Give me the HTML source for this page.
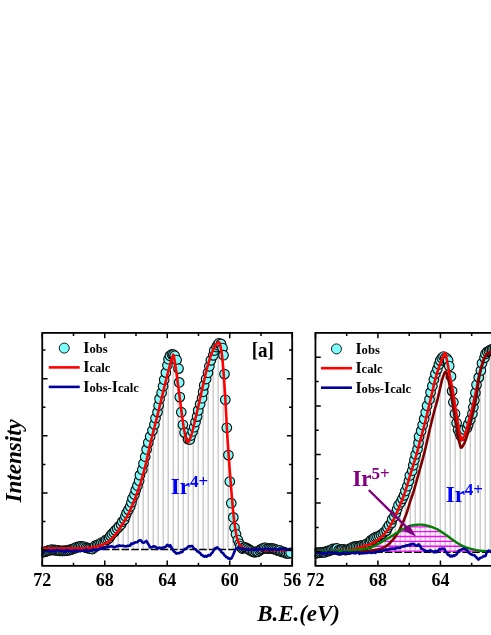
<!DOCTYPE html>
<html><head><meta charset="utf-8"><title>XPS Ir 4f</title>
<style>
html,body{margin:0;padding:0;background:#fff;}
body{width:491px;height:635px;overflow:hidden;font-family:"Liberation Serif",serif;}
svg{display:block;will-change:transform;}
text{font-family:"Liberation Serif",serif;font-weight:bold;}
.lg{text-anchor:start;}
.tk{font-size:18px;text-anchor:middle;}
.pl{font-size:20.3px;text-anchor:middle;}
.ir{font-size:23px;text-anchor:start;}
.ax{font-size:22.9px;font-style:italic;text-anchor:middle;}
</style></head><body>
<svg width="491" height="635" viewBox="0 0 491 635">
<rect width="491" height="635" fill="#fff"/>
<g>
<path d="M48.2 549.8V550M53.2 549.8V550M58.2 549.8V550M63.2 549.8V550M68.2 549.8V549.98M73.2 549.8V549.96M78.2 549.8V549.92M83.2 549.8V549.83M88.2 549.8V549.56M93.2 549.8V547.63M98.2 549.8V544.07M103.2 549.8V542.3M108.2 549.8V539.24M113.2 549.8V534.01M118.2 549.8V527.1M123.2 549.8V519.16M128.2 549.8V509.61M133.2 549.8V497.7M138.2 549.8V483.69M143.2 549.8V465.99M148.2 549.8V443.88M153.2 549.8V423.94M158.2 549.8V403.86M163.2 549.8V383.36M168.2 549.8V361.34M173.2 549.8V354.9M178.2 549.8V368.6M183.2 549.8V426.56M188.2 549.8V438.68M193.2 549.8V428.7M198.2 549.8V411.64M203.2 549.8V391.69M208.2 549.8V371.3M213.2 549.8V352.94M218.2 549.8V343.32M223.2 549.8V354.59M228.2 549.8V451.64M233.2 549.8V517.4M238.2 549.8V541.07M243.2 549.8V549.07M248.2 549.8V550M253.2 549.8V550M258.2 549.8V550M263.2 549.8V550M268.2 549.8V550M273.2 549.8V550M278.2 549.8V550M283.2 549.8V550M288.2 549.8V550" stroke="#c6c6c6" stroke-width="1.3" fill="none"/>
<path d="M44 549.5H291" stroke="#000" stroke-width="1.3" stroke-dasharray="7.5 2.2" fill="none"/>
<clipPath id="ca"><rect x="41.35" y="332.9" width="251.75" height="232.95"/></clipPath>
<g clip-path="url(#ca)"><g fill="#7dffff" stroke="#0c0c0c" stroke-width="1.15"><circle cx="42.25" cy="552.22" r="4.8"/><circle cx="43.81" cy="552" r="4.8"/><circle cx="45.37" cy="551.59" r="4.8"/><circle cx="46.94" cy="551.02" r="4.8"/><circle cx="48.5" cy="550.44" r="4.8"/><circle cx="50.06" cy="550.16" r="4.8"/><circle cx="51.62" cy="549.59" r="4.8"/><circle cx="53.19" cy="550.03" r="4.8"/><circle cx="54.75" cy="549.95" r="4.8"/><circle cx="56.31" cy="550.36" r="4.8"/><circle cx="57.87" cy="550.35" r="4.8"/><circle cx="59.44" cy="550.82" r="4.8"/><circle cx="61" cy="550.93" r="4.8"/><circle cx="62.56" cy="550.76" r="4.8"/><circle cx="64.12" cy="550.75" r="4.8"/><circle cx="65.69" cy="550.66" r="4.8"/><circle cx="67.25" cy="550.4" r="4.8"/><circle cx="68.81" cy="550.21" r="4.8"/><circle cx="70.37" cy="549.65" r="4.8"/><circle cx="71.93" cy="549.31" r="4.8"/><circle cx="73.49" cy="548.54" r="4.8"/><circle cx="75.05" cy="548.1" r="4.8"/><circle cx="76.61" cy="547" r="4.8"/><circle cx="78.17" cy="547.22" r="4.8"/><circle cx="79.72" cy="546.42" r="4.8"/><circle cx="81.27" cy="546.3" r="4.8"/><circle cx="82.81" cy="546.57" r="4.8"/><circle cx="84.35" cy="546.81" r="4.8"/><circle cx="85.92" cy="547.62" r="4.8"/><circle cx="87.49" cy="547.99" r="4.8"/><circle cx="89.06" cy="548.38" r="4.8"/><circle cx="90.58" cy="548.74" r="4.8"/><circle cx="92.52" cy="549.03" r="4.8"/><circle cx="93.93" cy="547.34" r="4.8"/><circle cx="95.31" cy="545.61" r="4.8"/><circle cx="97.11" cy="545.15" r="4.8"/><circle cx="98.57" cy="544.41" r="4.8"/><circle cx="100.27" cy="544.81" r="4.8"/><circle cx="101.52" cy="542.59" r="4.8"/><circle cx="103.31" cy="542.76" r="4.8"/><circle cx="104.86" cy="541.84" r="4.8"/><circle cx="106.01" cy="539.81" r="4.8"/><circle cx="107.76" cy="539.26" r="4.8"/><circle cx="109.28" cy="537.93" r="4.8"/><circle cx="110.52" cy="535.87" r="4.8"/><circle cx="111.95" cy="533.93" r="4.8"/><circle cx="113.75" cy="532.39" r="4.8"/><circle cx="115.34" cy="530.34" r="4.8"/><circle cx="117.26" cy="528.56" r="4.8"/><circle cx="119.02" cy="526.42" r="4.8"/><circle cx="121.05" cy="524.47" r="4.8"/><circle cx="122.31" cy="521.66" r="4.8"/><circle cx="124.37" cy="519.53" r="4.8"/><circle cx="125.45" cy="516.24" r="4.8"/><circle cx="126.65" cy="512.91" r="4.8"/><circle cx="128.44" cy="509.87" r="4.8"/><circle cx="130.23" cy="506.52" r="4.8"/><circle cx="131.45" cy="502.53" r="4.8"/><circle cx="132.51" cy="498.32" r="4.8"/><circle cx="134.47" cy="494.56" r="4.8"/><circle cx="135.74" cy="490.12" r="4.8"/><circle cx="137.46" cy="485.64" r="4.8"/><circle cx="139.12" cy="480.79" r="4.8"/><circle cx="139.92" cy="475.14" r="4.8"/><circle cx="142.28" cy="469.77" r="4.8"/><circle cx="143.48" cy="463.45" r="4.8"/><circle cx="145.21" cy="456.74" r="4.8"/><circle cx="146.62" cy="449.41" r="4.8"/><circle cx="148.29" cy="442.6" r="4.8"/><circle cx="150.17" cy="436.43" r="4.8"/><circle cx="152.43" cy="430.59" r="4.8"/><circle cx="154.39" cy="424.56" r="4.8"/><circle cx="155.52" cy="418.2" r="4.8"/><circle cx="157.52" cy="412.12" r="4.8"/><circle cx="158.65" cy="405.57" r="4.8"/><circle cx="159.57" cy="398.91" r="4.8"/><circle cx="161.62" cy="392.7" r="4.8"/><circle cx="163.08" cy="386.25" r="4.8"/><circle cx="164.19" cy="379.69" r="4.8"/><circle cx="165.86" cy="372.63" r="4.8"/><circle cx="167.44" cy="365.32" r="4.8"/><circle cx="168.52" cy="359.23" r="4.8"/><circle cx="169.92" cy="355.75" r="4.8"/><circle cx="171.9" cy="354.34" r="4.8"/><circle cx="173.35" cy="354.67" r="4.8"/><circle cx="174.72" cy="355.83" r="4.8"/><circle cx="176.6" cy="360" r="4.8"/><circle cx="178.5" cy="368.6" r="4.8"/><circle cx="179.2" cy="382.4" r="4.8"/><circle cx="179.8" cy="397.1" r="4.8"/><circle cx="181.3" cy="412.2" r="4.8"/><circle cx="182.9" cy="424.8" r="4.8"/><circle cx="184.6" cy="432.6" r="4.8"/><circle cx="188.07" cy="439.21" r="4.8"/><circle cx="189.85" cy="439.5" r="4.8"/><circle cx="190.91" cy="435.55" r="4.8"/><circle cx="192.67" cy="431.49" r="4.8"/><circle cx="194.15" cy="427.21" r="4.8"/><circle cx="195.52" cy="422.06" r="4.8"/><circle cx="197.12" cy="416.59" r="4.8"/><circle cx="198.21" cy="410.41" r="4.8"/><circle cx="200.13" cy="404.17" r="4.8"/><circle cx="202.07" cy="398.15" r="4.8"/><circle cx="203.16" cy="391.82" r="4.8"/><circle cx="204.19" cy="385.33" r="4.8"/><circle cx="206.13" cy="379.07" r="4.8"/><circle cx="207.97" cy="372.79" r="4.8"/><circle cx="209.4" cy="366.29" r="4.8"/><circle cx="210.86" cy="360.33" r="4.8"/><circle cx="213.32" cy="355.35" r="4.8"/><circle cx="214.24" cy="350.53" r="4.8"/><circle cx="216.47" cy="347.06" r="4.8"/><circle cx="217.7" cy="345.01" r="4.8"/><circle cx="218.89" cy="343.27" r="4.8"/><circle cx="220.96" cy="343.87" r="4.8"/><circle cx="222.5" cy="348" r="4.8"/><circle cx="223.5" cy="355.2" r="4.8"/><circle cx="224.5" cy="374.1" r="4.8"/><circle cx="225.3" cy="399.8" r="4.8"/><circle cx="226.8" cy="427.8" r="4.8"/><circle cx="228.4" cy="455.1" r="4.8"/><circle cx="229.8" cy="481.5" r="4.8"/><circle cx="231.3" cy="503.2" r="4.8"/><circle cx="233.3" cy="517.4" r="4.8"/><circle cx="234.5" cy="527.7" r="4.8"/><circle cx="236" cy="534.3" r="4.8"/><circle cx="237.9" cy="540" r="4.8"/><circle cx="239.49" cy="543.82" r="4.8"/><circle cx="240.44" cy="546.3" r="4.8"/><circle cx="242.22" cy="548.5" r="4.8"/><circle cx="243.53" cy="547.95" r="4.8"/><circle cx="245.06" cy="547.47" r="4.8"/><circle cx="246.81" cy="548.15" r="4.8"/><circle cx="248.47" cy="549.12" r="4.8"/><circle cx="250.04" cy="550.2" r="4.8"/><circle cx="251.6" cy="551.05" r="4.8"/><circle cx="253.16" cy="551.79" r="4.8"/><circle cx="254.72" cy="552.27" r="4.8"/><circle cx="256.29" cy="551.89" r="4.8"/><circle cx="257.85" cy="551.63" r="4.8"/><circle cx="259.41" cy="550.34" r="4.8"/><circle cx="260.97" cy="549.38" r="4.8"/><circle cx="262.53" cy="548.67" r="4.8"/><circle cx="264.1" cy="547.77" r="4.8"/><circle cx="265.66" cy="547.8" r="4.8"/><circle cx="267.22" cy="548.61" r="4.8"/><circle cx="268.78" cy="548.43" r="4.8"/><circle cx="270.35" cy="548.36" r="4.8"/><circle cx="271.91" cy="548.65" r="4.8"/><circle cx="273.47" cy="548.67" r="4.8"/><circle cx="275.03" cy="549.4" r="4.8"/><circle cx="276.6" cy="549.75" r="4.8"/><circle cx="278.16" cy="550.59" r="4.8"/><circle cx="279.72" cy="550.45" r="4.8"/><circle cx="281.28" cy="551.76" r="4.8"/><circle cx="282.84" cy="551.81" r="4.8"/><circle cx="284.41" cy="552.23" r="4.8"/><circle cx="285.97" cy="553.23" r="4.8"/><circle cx="287.53" cy="553.4" r="4.8"/><circle cx="289.09" cy="553.41" r="4.8"/><circle cx="290.66" cy="552.8" r="4.8"/></g></g>
<path d="M42.25 548.5 L42.75 548.5 L43.25 548.5 L43.75 548.5 L44.25 548.5 L44.75 548.5 L45.25 548.5 L45.75 548.5 L46.25 548.5 L46.75 548.5 L47.25 548.5 L47.75 548.5 L48.25 548.5 L48.75 548.5 L49.25 548.5 L49.75 548.5 L50.25 548.5 L50.75 548.5 L51.25 548.5 L51.75 548.5 L52.25 548.5 L52.75 548.5 L53.25 548.5 L53.75 548.5 L54.25 548.5 L54.75 548.5 L55.25 548.5 L55.75 548.5 L56.25 548.5 L56.75 548.5 L57.25 548.5 L57.75 548.5 L58.25 548.5 L58.75 548.5 L59.25 548.5 L59.75 548.5 L60.25 548.5 L60.75 548.5 L61.25 548.5 L61.75 548.5 L62.25 548.5 L62.75 548.5 L63.25 548.5 L63.75 548.5 L64.25 548.5 L64.75 548.49 L65.25 548.49 L65.75 548.49 L66.25 548.49 L66.75 548.49 L67.25 548.49 L67.75 548.49 L68.25 548.48 L68.75 548.48 L69.25 548.48 L69.75 548.48 L70.25 548.47 L70.75 548.47 L71.25 548.47 L71.75 548.47 L72.25 548.46 L72.75 548.46 L73.25 548.46 L73.75 548.45 L74.25 548.45 L74.75 548.45 L75.25 548.44 L75.75 548.44 L76.25 548.43 L76.75 548.43 L77.25 548.43 L77.75 548.42 L78.25 548.42 L78.75 548.41 L79.25 548.41 L79.75 548.4 L80.25 548.4 L80.75 548.39 L81.25 548.38 L81.75 548.36 L82.25 548.35 L82.75 548.33 L83.25 548.3 L83.75 548.28 L84.25 548.25 L84.75 548.22 L85.25 548.19 L85.75 548.15 L86.25 548.12 L86.75 548.08 L87.25 548.04 L87.75 548 L88.25 547.96 L88.75 547.91 L89.25 547.87 L89.75 547.82 L90.25 547.78 L90.75 547.72 L91.25 547.66 L91.75 547.59 L92.25 547.52 L92.75 547.44 L93.25 547.35 L93.75 547.26 L94.25 547.16 L94.75 547.06 L95.25 546.95 L95.75 546.84 L96.25 546.72 L96.75 546.59 L97.25 546.47 L97.75 546.34 L98.25 546.2 L98.75 546.06 L99.25 545.92 L99.75 545.77 L100.25 545.62 L100.75 545.46 L101.25 545.29 L101.75 545.11 L102.25 544.91 L102.75 544.7 L103.25 544.48 L103.75 544.25 L104.25 544.01 L104.75 543.76 L105.25 543.5 L105.75 543.22 L106.25 542.94 L106.75 542.64 L107.25 542.34 L107.75 542.02 L108.25 541.7 L108.75 541.36 L109.25 540.98 L109.75 540.57 L110.25 540.13 L110.75 539.67 L111.25 539.18 L111.75 538.67 L112.25 538.13 L112.75 537.59 L113.25 537.03 L113.75 536.46 L114.25 535.89 L114.75 535.31 L115.25 534.7 L115.75 534.06 L116.25 533.41 L116.75 532.72 L117.25 532.02 L117.75 531.31 L118.25 530.58 L118.75 529.84 L119.25 529.09 L119.75 528.33 L120.25 527.58 L120.75 526.82 L121.25 526.05 L121.75 525.28 L122.25 524.5 L122.75 523.72 L123.25 522.92 L123.75 522.11 L124.25 521.29 L124.75 520.46 L125.25 519.61 L125.75 518.74 L126.25 517.86 L126.75 516.96 L127.25 516.03 L127.75 515.09 L128.25 514.12 L128.75 513.11 L129.25 512.08 L129.75 511.02 L130.25 509.93 L130.75 508.82 L131.25 507.68 L131.75 506.53 L132.25 505.35 L132.75 504.15 L133.25 502.94 L133.75 501.72 L134.25 500.48 L134.75 499.22 L135.25 497.95 L135.75 496.66 L136.25 495.35 L136.75 494.02 L137.25 492.66 L137.75 491.27 L138.25 489.86 L138.75 488.42 L139.25 486.94 L139.75 485.43 L140.25 483.89 L140.75 482.3 L141.25 480.67 L141.75 478.98 L142.25 477.25 L142.75 475.47 L143.25 473.65 L143.75 471.79 L144.25 469.9 L144.75 467.97 L145.25 466 L145.75 464.01 L146.25 461.97 L146.75 459.84 L147.25 457.61 L147.75 455.32 L148.25 452.99 L148.75 450.65 L149.25 448.34 L149.75 446.06 L150.25 443.86 L150.75 441.76 L151.25 439.71 L151.75 437.7 L152.25 435.72 L152.75 433.78 L153.25 431.84 L153.75 429.92 L154.25 427.99 L154.75 426.05 L155.25 424.09 L155.75 422.1 L156.25 420.1 L156.75 418.1 L157.25 416.09 L157.75 414.07 L158.25 412.05 L158.75 410.03 L159.25 408 L159.75 405.97 L160.25 403.93 L160.75 401.89 L161.25 399.83 L161.75 397.76 L162.25 395.68 L162.75 393.6 L163.25 391.53 L163.75 389.46 L164.25 387.42 L164.75 385.39 L165.25 383.37 L165.75 381.35 L166.25 379.33 L166.75 377.33 L167.25 375.34 L167.75 373.37 L168.25 371.44 L168.75 369.54 L169.25 367.68 L169.75 365.84 L170.25 363.99 L170.75 362.18 L171.25 360.44 L171.75 358.82 L172.25 357.36 L172.75 355.78 L173.25 354.68 L173.75 355.54 L174.25 358.61 L174.75 361.52 L175.25 364.69 L175.75 368.04 L176.25 371.53 L176.75 375.19 L177.25 378.95 L177.75 382.77 L178.25 386.6 L178.75 390.4 L179.25 394.26 L179.75 398.16 L180.25 402.06 L180.75 405.91 L181.25 409.67 L181.75 413.46 L182.25 417.26 L182.75 420.94 L183.25 424.39 L183.75 427.51 L184.25 430.52 L184.75 433.34 L185.25 435.72 L185.75 437.47 L186.25 439.01 L186.75 440.4 L187.25 441.49 L187.75 442.11 L188.25 442.13 L188.75 441.62 L189.25 440.71 L189.75 439.52 L190.25 438.17 L190.75 436.77 L191.25 435.4 L191.75 433.8 L192.25 431.98 L192.75 429.99 L193.25 427.91 L193.75 425.8 L194.25 423.71 L194.75 421.67 L195.25 419.59 L195.75 417.47 L196.25 415.31 L196.75 413.13 L197.25 410.93 L197.75 408.72 L198.25 406.52 L198.75 404.32 L199.25 402.12 L199.75 399.9 L200.25 397.66 L200.75 395.42 L201.25 393.18 L201.75 390.95 L202.25 388.73 L202.75 386.52 L203.25 384.35 L203.75 382.15 L204.25 379.93 L204.75 377.71 L205.25 375.51 L205.75 373.35 L206.25 371.26 L206.75 369.25 L207.25 367.35 L207.75 365.55 L208.25 363.78 L208.75 362.07 L209.25 360.4 L209.75 358.79 L210.25 357.25 L210.75 355.79 L211.25 354.41 L211.75 353.12 L212.25 351.89 L212.75 350.68 L213.25 349.49 L213.75 348.35 L214.25 347.29 L214.75 346.32 L215.25 345.45 L215.75 344.72 L216.25 344.13 L216.75 343.58 L217.25 343.05 L217.75 342.6 L218.25 342.27 L218.75 342.11 L219.25 342.36 L219.75 343.51 L220.25 345.36 L220.75 347.69 L221.25 350.24 L221.75 353.46 L222.25 357.94 L222.75 363.17 L223.25 368.69 L223.75 374.89 L224.25 381.82 L224.75 389.24 L225.25 397.33 L225.75 406.34 L226.25 415.79 L226.75 425.25 L227.25 434.23 L227.75 442.32 L228.25 449.62 L228.75 456.56 L229.25 463.43 L229.75 470.17 L230.25 476.76 L230.75 483.24 L231.25 489.71 L231.75 495.93 L232.25 501.68 L232.75 507.21 L233.25 512.51 L233.75 517.38 L234.25 521.62 L234.75 525.31 L235.25 528.76 L235.75 531.88 L236.25 534.59 L236.75 536.81 L237.25 538.63 L237.75 540.28 L238.25 541.74 L238.75 542.99 L239.25 544.02 L239.75 544.82 L240.25 545.52 L240.75 546.16 L241.25 546.73 L241.75 547.22 L242.25 547.61 L242.75 547.9 L243.25 548.08 L243.75 548.24 L244.25 548.39 L244.75 548.53 L245.25 548.66 L245.75 548.78 L246.25 548.9 L246.75 549 L247.25 549.1 L247.75 549.18 L248.25 549.26 L248.75 549.33 L249.25 549.4 L249.75 549.45 L250.25 549.5 L250.75 549.54 L251.25 549.57 L251.75 549.59 L252.25 549.61 L252.75 549.62 L253.25 549.64 L253.75 549.66 L254.25 549.67 L254.75 549.69 L255.25 549.7 L255.75 549.71 L256.25 549.73 L256.75 549.74 L257.25 549.75 L257.75 549.76 L258.25 549.77 L258.75 549.78 L259.25 549.79 L259.75 549.8 L260.25 549.81 L260.75 549.82 L261.25 549.83 L261.75 549.84 L262.25 549.84 L262.75 549.85 L263.25 549.86 L263.75 549.86 L264.25 549.87 L264.75 549.87 L265.25 549.88 L265.75 549.88 L266.25 549.89 L266.75 549.89 L267.25 549.89 L267.75 549.9 L268.25 549.9 L268.75 549.9 L269.25 549.9 L269.75 549.9 L270.25 549.9 L270.75 549.9 L271.25 549.9 L271.75 549.9 L272.25 549.9 L272.75 549.9 L273.25 549.9 L273.75 549.9 L274.25 549.9 L274.75 549.9 L275.25 549.9 L275.75 549.9 L276.25 549.9 L276.75 549.9 L277.25 549.9 L277.75 549.9 L278.25 549.9 L278.75 549.9 L279.25 549.9 L279.75 549.9 L280.25 549.9 L280.75 549.9 L281.25 549.9 L281.75 549.9 L282.25 549.9 L282.75 549.9 L283.25 549.9 L283.75 549.9 L284.25 549.9 L284.75 549.9 L285.25 549.9 L285.75 549.9 L286.25 549.9 L286.75 549.9 L287.25 549.9 L287.75 549.9 L288.25 549.9 L288.75 549.9 L289.25 549.9 L289.75 549.9 L290.25 549.9 L290.75 549.9 L291.25 549.9 L291.75 549.9" stroke="#f00" stroke-width="2.6" fill="none" stroke-linejoin="round"/>
<path d="M42.25 550.97 L43.25 552.29 L44.25 550.35 L45.25 551.01 L46.25 550.77 L47.25 550.97 L48.25 550.17 L49.25 550.44 L50.25 551.08 L51.25 550.85 L52.25 551.46 L53.25 550.44 L54.25 550.7 L55.25 551.7 L56.25 550.16 L57.25 550.05 L58.25 550.39 L59.25 550.42 L60.25 550.85 L61.25 550.67 L62.25 550.43 L63.25 550.92 L64.25 551.98 L65.25 551.49 L66.25 549.89 L67.25 550.92 L68.25 550.57 L69.25 551.1 L70.25 550.7 L71.25 551.46 L72.25 550.98 L73.25 550.91 L74.25 550.58 L75.25 550.48 L76.25 550.65 L77.25 551.06 L78.25 550.8 L79.25 550.5 L80.25 551.2 L81.25 550.81 L82.25 550.74 L83.25 550.48 L84.25 550.57 L85.25 550.53 L86.25 549.62 L87.25 551.08 L88.25 550.82 L89.25 550.41 L90.25 550.81 L91.25 550.45 L92.25 550.3 L93.25 549.03 L94.25 549.8 L95.25 549.98 L96.25 550.27 L97.25 550.19 L98.25 549.84 L99.25 548.61 L100.25 547.98 L101.25 548.88 L102.25 548.45 L103.25 548.59 L104.25 547.9 L105.25 547.79 L106.25 546.84 L107.25 547.37 L108.25 546.76 L109.25 546.76 L110.25 546.52 L111.25 546.15 L112.25 546.5 L113.25 546.72 L114.25 547.29 L115.25 547.1 L116.25 546.31 L117.25 545.82 L118.25 546.32 L119.25 545.36 L120.25 545.86 L121.25 545.81 L122.25 545.67 L123.25 545.81 L124.25 546.25 L125.25 546.3 L126.25 546.45 L127.25 545.69 L128.25 545.88 L129.25 545.67 L130.25 545.74 L131.25 543.48 L132.25 544 L133.25 543.15 L134.25 543.12 L135.25 542.34 L136.25 542.27 L137.25 542.3 L138.25 541.2 L139.25 540.53 L140.25 540.15 L141.25 540.59 L142.25 542.35 L143.25 542.66 L144.25 542.47 L145.25 541.76 L146.25 540.91 L147.25 542.54 L148.25 544.08 L149.25 545.67 L150.25 547.56 L151.25 547.26 L152.25 547.04 L153.25 546.48 L154.25 546.26 L155.25 546.7 L156.25 547.42 L157.25 548.26 L158.25 548.14 L159.25 547.65 L160.25 548.28 L161.25 547.69 L162.25 548.22 L163.25 547.51 L164.25 547.28 L165.25 547.17 L166.25 546.08 L167.25 544.77 L168.25 545.72 L169.25 546.4 L170.25 545.15 L171.25 547.24 L172.25 548.86 L173.25 550.45 L174.25 551.86 L175.25 552.22 L176.25 553.59 L177.25 553.4 L178.25 552.98 L179.25 553.18 L180.25 552.41 L181.25 552.3 L182.25 552.1 L183.25 550.24 L184.25 549.62 L185.25 548.75 L186.25 548.34 L187.25 547.77 L188.25 546.52 L189.25 546.13 L190.25 546.42 L191.25 545.97 L192.25 546.08 L193.25 547.41 L194.25 548.73 L195.25 549.15 L196.25 550.06 L197.25 551.43 L198.25 551.3 L199.25 552.74 L200.25 552.96 L201.25 554.99 L202.25 555.1 L203.25 555.97 L204.25 556.75 L205.25 555.92 L206.25 556.65 L207.25 556.35 L208.25 555.06 L209.25 555.44 L210.25 555.22 L211.25 553.58 L212.25 552.83 L213.25 551.19 L214.25 549.37 L215.25 548.07 L216.25 548.13 L217.25 547.39 L218.25 548.38 L219.25 549.47 L220.25 549.81 L221.25 552.04 L222.25 552.72 L223.25 553.33 L224.25 555.2 L225.25 555.76 L226.25 557.1 L227.25 557.19 L228.25 558.58 L229.25 558.3 L230.25 559.05 L231.25 558.65 L232.25 556.79 L233.25 554.78 L234.25 552.15 L235.25 549.84 L236.25 548.44 L237.25 548.71 L238.25 548.14 L239.25 547.75 L240.25 548.38 L241.25 548.3 L242.25 548.5 L243.25 548.71 L244.25 549.29 L245.25 549.35 L246.25 549 L247.25 549.63 L248.25 549.68 L249.25 549.47 L250.25 549.85 L251.25 549.34 L252.25 549.43 L253.25 549.68 L254.25 549.48 L255.25 549.82 L256.25 548.99 L257.25 550.03 L258.25 549.11 L259.25 549.32 L260.25 548.79 L261.25 549.54 L262.25 549.77 L263.25 549.65 L264.25 549.54 L265.25 548.58 L266.25 548.9 L267.25 549.05 L268.25 548.9 L269.25 549.77 L270.25 549.44 L271.25 549.4 L272.25 549.64 L273.25 549.1 L274.25 549.13 L275.25 549.15 L276.25 549.69 L277.25 549.6 L278.25 549.66 L279.25 549.81 L280.25 548.8 L281.25 549.07 L282.25 549.31 L283.25 548.68 L284.25 548.99 L285.25 549.61 L286.25 549.64 L287.25 549.64 L288.25 549.23 L289.25 549.15 L290.25 549.68 L291.25 549.12" stroke="#00009a" stroke-width="2.6" fill="none" stroke-linejoin="round"/>
<path d="M42.25 565.85v-5.3M42.25 332.9v5.3M104.74 565.85v-5.3M104.74 332.9v5.3M167.23 565.85v-5.3M167.23 332.9v5.3M229.72 565.85v-5.3M229.72 332.9v5.3M292.21 565.85v-5.3M292.21 332.9v5.3M73.5 565.85v-3.2M73.5 332.9v3.2M135.99 565.85v-3.2M135.99 332.9v3.2M198.47 565.85v-3.2M198.47 332.9v3.2M260.97 565.85v-3.2M260.97 332.9v3.2M42.25 378.7h5.3M292.2 378.7h-5.3M42.25 435.8h5.3M292.2 435.8h-5.3M42.25 492.9h5.3M292.2 492.9h-5.3M42.25 550h5.3M292.2 550h-5.3M42.25 350.1h3.2M292.2 350.1h-3.2M42.25 407.3h3.2M292.2 407.3h-3.2M42.25 464.4h3.2M292.2 464.4h-3.2M42.25 521.5h3.2M292.2 521.5h-3.2" stroke="#000" stroke-width="1.5" fill="none"/>
<rect x="42.25" y="332.9" width="249.95" height="232.95" fill="none" stroke="#000" stroke-width="1.8"/>
<defs><clipPath id="hb"><path d="M355 550 L355.5 549.95 L356 549.91 L356.5 549.86 L357 549.82 L357.5 549.77 L358 549.72 L358.5 549.67 L359 549.62 L359.5 549.56 L360 549.5 L360.5 549.43 L361 549.37 L361.5 549.3 L362 549.22 L362.5 549.15 L363 549.07 L363.5 548.98 L364 548.9 L364.5 548.81 L365 548.71 L365.5 548.62 L366 548.52 L366.5 548.41 L367 548.31 L367.5 548.19 L368 548.08 L368.5 547.96 L369 547.84 L369.5 547.71 L370 547.58 L370.5 547.44 L371 547.3 L371.5 547.15 L372 546.98 L372.5 546.8 L373 546.6 L373.5 546.39 L374 546.17 L374.5 545.93 L375 545.69 L375.5 545.44 L376 545.18 L376.5 544.91 L377 544.63 L377.5 544.35 L378 544.07 L378.5 543.79 L379 543.5 L379.5 543.21 L380 542.92 L380.5 542.64 L381 542.36 L381.5 542.08 L382 541.8 L382.5 541.53 L383 541.25 L383.5 540.96 L384 540.68 L384.5 540.39 L385 540.1 L385.5 539.81 L386 539.51 L386.5 539.21 L387 538.91 L387.5 538.61 L388 538.3 L388.5 537.99 L389 537.69 L389.5 537.38 L390 537.07 L390.5 536.76 L391 536.45 L391.5 536.13 L392 535.82 L392.5 535.51 L393 535.2 L393.5 534.89 L394 534.57 L394.5 534.24 L395 533.92 L395.5 533.59 L396 533.27 L396.5 532.94 L397 532.62 L397.5 532.31 L398 532 L398.5 531.69 L399 531.39 L399.5 531.08 L400 530.77 L400.5 530.47 L401 530.16 L401.5 529.87 L402 529.58 L402.5 529.29 L403 529.02 L403.5 528.75 L404 528.5 L404.5 528.25 L405 528 L405.5 527.75 L406 527.5 L406.5 527.26 L407 527.03 L407.5 526.8 L408 526.59 L408.5 526.39 L409 526.21 L409.5 526.04 L410 525.9 L410.5 525.77 L411 525.64 L411.5 525.52 L412 525.41 L412.5 525.3 L413 525.21 L413.5 525.12 L414 525.04 L414.5 524.97 L415 524.92 L415.5 524.87 L416 524.83 L416.5 524.79 L417 524.75 L417.5 524.72 L418 524.69 L418.5 524.66 L419 524.63 L419.5 524.62 L420 524.61 L420.5 524.6 L421 524.61 L421.5 524.63 L422 524.67 L422.5 524.72 L423 524.79 L423.5 524.86 L424 524.95 L424.5 525.05 L425 525.15 L425.5 525.26 L426 525.38 L426.5 525.5 L427 525.62 L427.5 525.73 L428 525.85 L428.5 525.97 L429 526.1 L429.5 526.24 L430 526.38 L430.5 526.54 L431 526.71 L431.5 526.88 L432 527.06 L432.5 527.25 L433 527.44 L433.5 527.64 L434 527.85 L434.5 528.06 L435 528.28 L435.5 528.5 L436 528.73 L436.5 528.96 L437 529.19 L437.5 529.44 L438 529.7 L438.5 529.98 L439 530.27 L439.5 530.57 L440 530.87 L440.5 531.19 L441 531.51 L441.5 531.84 L442 532.18 L442.5 532.52 L443 532.86 L443.5 533.2 L444 533.55 L444.5 533.89 L445 534.23 L445.5 534.57 L446 534.91 L446.5 535.26 L447 535.62 L447.5 535.98 L448 536.35 L448.5 536.72 L449 537.1 L449.5 537.48 L450 537.85 L450.5 538.23 L451 538.6 L451.5 538.97 L452 539.34 L452.5 539.7 L453 540.05 L453.5 540.4 L454 540.73 L454.5 541.06 L455 541.4 L455.5 541.73 L456 542.07 L456.5 542.4 L457 542.73 L457.5 543.06 L458 543.38 L458.5 543.7 L459 544.01 L459.5 544.31 L460 544.61 L460.5 544.89 L461 545.17 L461.5 545.43 L462 545.68 L462.5 545.91 L463 546.13 L463.5 546.34 L464 546.55 L464.5 546.76 L465 546.95 L465.5 547.14 L466 547.33 L466.5 547.51 L467 547.69 L467.5 547.86 L468 548.02 L468.5 548.18 L469 548.34 L469.5 548.48 L470 548.63 L470.5 548.77 L471 548.9 L471.5 549.03 L472 549.15 L472.5 549.27 L473 549.4 L473.5 549.52 L474 549.64 L474.5 549.75 L475 549.86 L475.5 549.97 L476 550.08 L476.5 550.18 L477 550.27 L477.5 550.36 L478 550.44 L478.5 550.52 L479 550.59 L479.5 550.65 L480 550.7 L480.5 550.75 L481 550.79 L481.5 550.84 L482 550.88 L482.5 550.92 L483 550.96 L483.5 551 L484 551.04 L484.5 551.07 L485 551.11 L485.5 551.14 L486 551.17 L486.5 551.2 L487 551.23 L487.5 551.25 L488 551.28 L488.5 551.3 L489 551.32 L489.5 551.34 L490 551.36 L490.5 551.38 L491 551.4 L491 552.3 L355 552.3Z"/></clipPath></defs>
<path d="M320.2 552.3V551.9M325.2 552.3V551.9M330.2 552.3V551.9M335.2 552.3V551.9M340.2 552.3V550.61M345.2 552.3V549.05M350.2 552.3V548.33M355.2 552.3V547.18M360.2 552.3V545.73M365.2 552.3V544.18M370.2 552.3V542.56M375.2 552.3V539.77M380.2 552.3V535.8M385.2 552.3V530.41M390.2 552.3V522.69M395.2 552.3V512.33M400.2 552.3V500.62M405.2 552.3V488.39M410.2 552.3V471.81M415.2 552.3V455.23M420.2 552.3V436.63M425.2 552.3V417.58M430.2 552.3V396.31M435.2 552.3V375.83M440.2 552.3V361.26M445.2 552.3V357.09M450.2 552.3V375.55M455.2 552.3V417.54M460.2 552.3V435.07M465.2 552.3V431.05M470.2 552.3V419.33M475.2 552.3V398.66M480.2 552.3V374.27M485.2 552.3V355.21M490.2 552.3V350.07" stroke="#c6c6c6" stroke-width="1.3" fill="none"/>
<g clip-path="url(#hb)"><rect x="355" y="520" width="140" height="34" fill="#ff00ff" opacity="0.06"/><path d="M355 526.8H491M355 531.67H491M355 536.54H491M355 541.41H491M355 546.28H491M355 551.15H491" stroke="#ff00ff" stroke-width="1.35" fill="none"/></g>
<path d="M317 552.3H491" stroke="#000" stroke-width="1.3" stroke-dasharray="7.5 2.2" fill="none"/>
<clipPath id="cb"><rect x="314.55" y="332.9" width="200" height="232.95"/></clipPath>
<g clip-path="url(#cb)"><g fill="#7dffff" stroke="#0c0c0c" stroke-width="1.15"><circle cx="315.45" cy="553.53" r="4.8"/><circle cx="317.01" cy="552.67" r="4.8"/><circle cx="318.57" cy="552.93" r="4.8"/><circle cx="320.14" cy="552.48" r="4.8"/><circle cx="321.7" cy="552.25" r="4.8"/><circle cx="323.26" cy="552.11" r="4.8"/><circle cx="324.82" cy="552.31" r="4.8"/><circle cx="326.39" cy="551.26" r="4.8"/><circle cx="327.95" cy="551.11" r="4.8"/><circle cx="329.51" cy="550.37" r="4.8"/><circle cx="331.07" cy="550.06" r="4.8"/><circle cx="332.64" cy="548.99" r="4.8"/><circle cx="334.2" cy="549.52" r="4.8"/><circle cx="335.58" cy="548.72" r="4.8"/><circle cx="336.84" cy="548.39" r="4.8"/><circle cx="338.69" cy="550.17" r="4.8"/><circle cx="340.38" cy="550.25" r="4.8"/><circle cx="341.88" cy="549.35" r="4.8"/><circle cx="343.57" cy="549.39" r="4.8"/><circle cx="345.22" cy="550.01" r="4.8"/><circle cx="346.76" cy="549.84" r="4.8"/><circle cx="348.33" cy="549.5" r="4.8"/><circle cx="349.92" cy="549.19" r="4.8"/><circle cx="351.36" cy="547.88" r="4.8"/><circle cx="352.86" cy="547.06" r="4.8"/><circle cx="354.42" cy="546.71" r="4.8"/><circle cx="355.99" cy="546.43" r="4.8"/><circle cx="357.64" cy="546.55" r="4.8"/><circle cx="359.25" cy="546.32" r="4.8"/><circle cx="360.77" cy="545.62" r="4.8"/><circle cx="362.38" cy="545.38" r="4.8"/><circle cx="364.08" cy="545.63" r="4.8"/><circle cx="365.52" cy="544.54" r="4.8"/><circle cx="366.99" cy="543.61" r="4.8"/><circle cx="368.71" cy="543.84" r="4.8"/><circle cx="369.92" cy="541.73" r="4.8"/><circle cx="371.16" cy="540.07" r="4.8"/><circle cx="372.82" cy="539.83" r="4.8"/><circle cx="373.99" cy="538.01" r="4.8"/><circle cx="375.64" cy="537.23" r="4.8"/><circle cx="377.51" cy="536.83" r="4.8"/><circle cx="379.24" cy="535.92" r="4.8"/><circle cx="380.94" cy="534.76" r="4.8"/><circle cx="382.75" cy="533.58" r="4.8"/><circle cx="384.4" cy="531.93" r="4.8"/><circle cx="386.45" cy="530.6" r="4.8"/><circle cx="387.53" cy="527.79" r="4.8"/><circle cx="389.12" cy="525.3" r="4.8"/><circle cx="391.4" cy="523.09" r="4.8"/><circle cx="392.15" cy="519.34" r="4.8"/><circle cx="394.29" cy="516.5" r="4.8"/><circle cx="395.86" cy="513.03" r="4.8"/><circle cx="397.12" cy="509.21" r="4.8"/><circle cx="398.48" cy="505.32" r="4.8"/><circle cx="400.74" cy="502.16" r="4.8"/><circle cx="402.41" cy="498.86" r="4.8"/><circle cx="404.07" cy="495.37" r="4.8"/><circle cx="405.35" cy="491.01" r="4.8"/><circle cx="407.3" cy="486.18" r="4.8"/><circle cx="408.97" cy="480.94" r="4.8"/><circle cx="409.84" cy="475.47" r="4.8"/><circle cx="412.23" cy="470.73" r="4.8"/><circle cx="413.32" cy="465.31" r="4.8"/><circle cx="414.41" cy="459.94" r="4.8"/><circle cx="415.68" cy="454.54" r="4.8"/><circle cx="417.56" cy="449.07" r="4.8"/><circle cx="418.55" cy="442.87" r="4.8"/><circle cx="419.08" cy="436.45" r="4.8"/><circle cx="421.17" cy="430.89" r="4.8"/><circle cx="422.64" cy="425.02" r="4.8"/><circle cx="424.19" cy="418.9" r="4.8"/><circle cx="425.7" cy="412.47" r="4.8"/><circle cx="427.07" cy="405.82" r="4.8"/><circle cx="429.49" cy="399.4" r="4.8"/><circle cx="430.56" cy="392.37" r="4.8"/><circle cx="432.36" cy="385.96" r="4.8"/><circle cx="433.86" cy="379.54" r="4.8"/><circle cx="435.38" cy="373.77" r="4.8"/><circle cx="437.41" cy="369.12" r="4.8"/><circle cx="438.89" cy="364.53" r="4.8"/><circle cx="440.2" cy="360.58" r="4.8"/><circle cx="441.78" cy="358" r="4.8"/><circle cx="443.53" cy="356.55" r="4.8"/><circle cx="445.33" cy="357.57" r="4.8"/><circle cx="446.74" cy="358.52" r="4.8"/><circle cx="448.1" cy="360.5" r="4.8"/><circle cx="449.2" cy="366" r="4.8"/><circle cx="451" cy="376.4" r="4.8"/><circle cx="452.1" cy="391.1" r="4.8"/><circle cx="453.4" cy="402.2" r="4.8"/><circle cx="455" cy="413.7" r="4.8"/><circle cx="456.6" cy="423.1" r="4.8"/><circle cx="458.1" cy="429.8" r="4.8"/><circle cx="459.69" cy="433.04" r="4.8"/><circle cx="460.78" cy="436.02" r="4.8"/><circle cx="462.03" cy="435.59" r="4.8"/><circle cx="463.39" cy="432.82" r="4.8"/><circle cx="464.31" cy="429.54" r="4.8"/><circle cx="467.05" cy="427.99" r="4.8"/><circle cx="468.26" cy="424.38" r="4.8"/><circle cx="470.22" cy="419.69" r="4.8"/><circle cx="472.43" cy="413.75" r="4.8"/><circle cx="473.36" cy="407.23" r="4.8"/><circle cx="474.41" cy="400.33" r="4.8"/><circle cx="475.4" cy="392.69" r="4.8"/><circle cx="476.52" cy="384.83" r="4.8"/><circle cx="478.75" cy="377.38" r="4.8"/><circle cx="480.87" cy="370.44" r="4.8"/><circle cx="482" cy="363.36" r="4.8"/><circle cx="484.49" cy="357.87" r="4.8"/><circle cx="485.45" cy="353.94" r="4.8"/><circle cx="487.22" cy="351.89" r="4.8"/><circle cx="489.01" cy="351.13" r="4.8"/><circle cx="490.4" cy="349.84" r="4.8"/><circle cx="491.98" cy="349.42" r="4.8"/><circle cx="493.54" cy="348.53" r="4.8"/><circle cx="495.11" cy="348.2" r="4.8"/></g></g>
<path d="M315.45 551.3 L315.95 551.3 L316.45 551.3 L316.95 551.3 L317.45 551.3 L317.95 551.3 L318.45 551.3 L318.95 551.3 L319.45 551.3 L319.95 551.3 L320.45 551.3 L320.95 551.3 L321.45 551.3 L321.95 551.3 L322.45 551.3 L322.95 551.3 L323.45 551.3 L323.95 551.3 L324.45 551.3 L324.95 551.3 L325.45 551.3 L325.95 551.3 L326.45 551.3 L326.95 551.3 L327.45 551.3 L327.95 551.3 L328.45 551.3 L328.95 551.3 L329.45 551.3 L329.95 551.3 L330.45 551.3 L330.95 551.3 L331.45 551.29 L331.95 551.29 L332.45 551.28 L332.95 551.27 L333.45 551.26 L333.95 551.25 L334.45 551.24 L334.95 551.22 L335.45 551.21 L335.95 551.19 L336.45 551.17 L336.95 551.15 L337.45 551.13 L337.95 551.11 L338.45 551.09 L338.95 551.06 L339.45 551.04 L339.95 551.01 L340.45 550.98 L340.95 550.96 L341.45 550.93 L341.95 550.9 L342.45 550.87 L342.95 550.84 L343.45 550.8 L343.95 550.77 L344.45 550.74 L344.95 550.7 L345.45 550.67 L345.95 550.62 L346.45 550.57 L346.95 550.5 L347.45 550.43 L347.95 550.36 L348.45 550.28 L348.95 550.19 L349.45 550.1 L349.95 550 L350.45 549.9 L350.95 549.79 L351.45 549.69 L351.95 549.58 L352.45 549.46 L352.95 549.35 L353.45 549.23 L353.95 549.11 L354.45 548.99 L354.95 548.88 L355.45 548.76 L355.95 548.64 L356.45 548.52 L356.95 548.39 L357.45 548.25 L357.95 548.11 L358.45 547.96 L358.95 547.81 L359.45 547.65 L359.95 547.5 L360.45 547.34 L360.95 547.18 L361.45 547.01 L361.95 546.85 L362.45 546.69 L362.95 546.53 L363.45 546.37 L363.95 546.22 L364.45 546.06 L364.95 545.92 L365.45 545.77 L365.95 545.63 L366.45 545.49 L366.95 545.35 L367.45 545.21 L367.95 545.06 L368.45 544.91 L368.95 544.75 L369.45 544.58 L369.95 544.41 L370.45 544.22 L370.95 544.02 L371.45 543.81 L371.95 543.57 L372.45 543.32 L372.95 543.05 L373.45 542.76 L373.95 542.46 L374.45 542.15 L374.95 541.83 L375.45 541.51 L375.95 541.17 L376.45 540.83 L376.95 540.49 L377.45 540.13 L377.95 539.76 L378.45 539.38 L378.95 538.99 L379.45 538.58 L379.95 538.16 L380.45 537.73 L380.95 537.28 L381.45 536.82 L381.95 536.35 L382.45 535.86 L382.95 535.36 L383.45 534.84 L383.95 534.31 L384.45 533.76 L384.95 533.2 L385.45 532.61 L385.95 532.01 L386.45 531.39 L386.95 530.75 L387.45 530.09 L387.95 529.42 L388.45 528.71 L388.95 527.99 L389.45 527.21 L389.95 526.4 L390.45 525.55 L390.95 524.67 L391.45 523.76 L391.95 522.82 L392.45 521.86 L392.95 520.89 L393.45 519.9 L393.95 518.9 L394.45 517.89 L394.95 516.83 L395.45 515.75 L395.95 514.63 L396.45 513.49 L396.95 512.33 L397.45 511.17 L397.95 509.99 L398.45 508.82 L398.95 507.65 L399.45 506.47 L399.95 505.29 L400.45 504.1 L400.95 502.89 L401.45 501.66 L401.95 500.41 L402.45 499.14 L402.95 497.83 L403.45 496.49 L403.95 495.11 L404.45 493.7 L404.95 492.24 L405.45 490.76 L405.95 489.23 L406.45 487.66 L406.95 486.05 L407.45 484.41 L407.95 482.74 L408.45 481.05 L408.95 479.35 L409.45 477.66 L409.95 475.97 L410.45 474.3 L410.95 472.65 L411.45 471.01 L411.95 469.39 L412.45 467.77 L412.95 466.15 L413.45 464.54 L413.95 462.91 L414.45 461.27 L414.95 459.62 L415.45 457.95 L415.95 456.25 L416.45 454.53 L416.95 452.77 L417.45 450.97 L417.95 449.13 L418.45 447.26 L418.95 445.36 L419.45 443.45 L419.95 441.53 L420.45 439.62 L420.95 437.71 L421.45 435.81 L421.95 433.94 L422.45 432.07 L422.95 430.22 L423.45 428.36 L423.95 426.49 L424.45 424.61 L424.95 422.71 L425.45 420.77 L425.95 418.8 L426.45 416.78 L426.95 414.73 L427.45 412.63 L427.95 410.51 L428.45 408.37 L428.95 406.22 L429.45 404.07 L429.95 401.92 L430.45 399.79 L430.95 397.64 L431.45 395.46 L431.95 393.28 L432.45 391.1 L432.95 388.95 L433.45 386.85 L433.95 384.8 L434.45 382.78 L434.95 380.79 L435.45 378.85 L435.95 376.97 L436.45 375.17 L436.95 373.46 L437.45 371.81 L437.95 370.21 L438.45 368.68 L438.95 367.21 L439.45 365.8 L439.95 364.43 L440.45 363.1 L440.95 361.81 L441.45 360.56 L441.95 359.36 L442.45 358.21 L442.95 357.11 L443.45 355.93 L443.95 354.68 L444.45 353.62 L444.95 353.04 L445.45 353.67 L445.95 355.86 L446.45 357.98 L446.95 360.34 L447.45 362.84 L447.95 365.41 L448.45 368.12 L448.95 370.91 L449.45 373.71 L449.95 376.47 L450.45 379.09 L450.95 381.58 L451.45 384.02 L451.95 386.48 L452.45 389.07 L452.95 391.87 L453.45 394.95 L453.95 398.23 L454.45 401.59 L454.95 404.9 L455.45 408.08 L455.95 411.23 L456.45 414.35 L456.95 417.44 L457.45 420.45 L457.95 423.39 L458.45 426.32 L458.95 429.21 L459.45 431.93 L459.95 434.33 L460.45 436.83 L460.95 439.09 L461.45 440.19 L461.95 440.05 L462.45 439.57 L462.95 438.84 L463.45 437.96 L463.95 436.98 L464.45 436 L464.95 434.77 L465.45 433.28 L465.95 431.59 L466.45 429.75 L466.95 427.83 L467.45 425.9 L467.95 424.01 L468.45 422.21 L468.95 420.42 L469.45 418.61 L469.95 416.79 L470.45 414.94 L470.95 413.05 L471.45 411.12 L471.95 409.15 L472.45 407.12 L472.95 405.03 L473.45 402.86 L473.95 400.63 L474.45 398.35 L474.95 396.01 L475.45 393.63 L475.95 391.22 L476.45 388.75 L476.95 386.13 L477.45 383.44 L477.95 380.79 L478.45 378.3 L478.95 376.02 L479.45 373.83 L479.95 371.72 L480.45 369.72 L480.95 367.81 L481.45 366.03 L481.95 364.29 L482.45 362.58 L482.95 360.98 L483.45 359.54 L483.95 358.31 L484.45 357.31 L484.95 356.38 L485.45 355.54 L485.95 354.81 L486.45 354.21 L486.95 353.76 L487.45 353.39 L487.95 353.06 L488.45 352.77 L488.95 352.54 L489.45 352.37 L489.95 352.28 L490.45 352.21 L490.95 352.15 L491.45 352.12 L491.95 352.1 L492.45 352.11 L492.95 352.15 L493.45 352.22 L493.95 352.32 L494.45 352.44 L494.95 352.58" stroke="#f00" stroke-width="2.6" fill="none" stroke-linejoin="round"/>
<path d="M315.45 551.4 L315.95 551.4 L316.45 551.4 L316.95 551.4 L317.45 551.4 L317.95 551.4 L318.45 551.4 L318.95 551.4 L319.45 551.4 L319.95 551.4 L320.45 551.4 L320.95 551.4 L321.45 551.4 L321.95 551.4 L322.45 551.4 L322.95 551.4 L323.45 551.4 L323.95 551.4 L324.45 551.4 L324.95 551.4 L325.45 551.4 L325.95 551.4 L326.45 551.4 L326.95 551.4 L327.45 551.4 L327.95 551.4 L328.45 551.4 L328.95 551.4 L329.45 551.4 L329.95 551.4 L330.45 551.4 L330.95 551.4 L331.45 551.4 L331.95 551.4 L332.45 551.4 L332.95 551.4 L333.45 551.4 L333.95 551.4 L334.45 551.4 L334.95 551.4 L335.45 551.4 L335.95 551.4 L336.45 551.4 L336.95 551.4 L337.45 551.4 L337.95 551.4 L338.45 551.4 L338.95 551.4 L339.45 551.4 L339.95 551.4 L340.45 551.4 L340.95 551.4 L341.45 551.4 L341.95 551.4 L342.45 551.4 L342.95 551.39 L343.45 551.39 L343.95 551.39 L344.45 551.39 L344.95 551.38 L345.45 551.38 L345.95 551.38 L346.45 551.37 L346.95 551.37 L347.45 551.36 L347.95 551.36 L348.45 551.35 L348.95 551.35 L349.45 551.34 L349.95 551.33 L350.45 551.33 L350.95 551.32 L351.45 551.31 L351.95 551.3 L352.45 551.3 L352.95 551.29 L353.45 551.28 L353.95 551.27 L354.45 551.26 L354.95 551.25 L355.45 551.24 L355.95 551.23 L356.45 551.22 L356.95 551.21 L357.45 551.2 L357.95 551.19 L358.45 551.18 L358.95 551.17 L359.45 551.15 L359.95 551.14 L360.45 551.13 L360.95 551.12 L361.45 551.1 L361.95 551.09 L362.45 551.07 L362.95 551.06 L363.45 551.05 L363.95 551.03 L364.45 551.02 L364.95 551 L365.45 550.98 L365.95 550.96 L366.45 550.94 L366.95 550.91 L367.45 550.87 L367.95 550.83 L368.45 550.79 L368.95 550.75 L369.45 550.7 L369.95 550.64 L370.45 550.59 L370.95 550.53 L371.45 550.47 L371.95 550.41 L372.45 550.35 L372.95 550.28 L373.45 550.22 L373.95 550.15 L374.45 550.08 L374.95 550.01 L375.45 549.93 L375.95 549.86 L376.45 549.77 L376.95 549.68 L377.45 549.59 L377.95 549.49 L378.45 549.38 L378.95 549.27 L379.45 549.15 L379.95 549.02 L380.45 548.88 L380.95 548.73 L381.45 548.58 L381.95 548.42 L382.45 548.23 L382.95 548.02 L383.45 547.78 L383.95 547.51 L384.45 547.22 L384.95 546.91 L385.45 546.58 L385.95 546.23 L386.45 545.88 L386.95 545.51 L387.45 545.14 L387.95 544.75 L388.45 544.34 L388.95 543.9 L389.45 543.44 L389.95 542.95 L390.45 542.44 L390.95 541.92 L391.45 541.38 L391.95 540.82 L392.45 540.25 L392.95 539.66 L393.45 539.06 L393.95 538.43 L394.45 537.79 L394.95 537.12 L395.45 536.43 L395.95 535.71 L396.45 534.97 L396.95 534.2 L397.45 533.41 L397.95 532.6 L398.45 531.76 L398.95 530.89 L399.45 529.98 L399.95 529.01 L400.45 527.99 L400.95 526.92 L401.45 525.81 L401.95 524.68 L402.45 523.52 L402.95 522.34 L403.45 521.16 L403.95 519.97 L404.45 518.75 L404.95 517.52 L405.45 516.24 L405.95 514.93 L406.45 513.57 L406.95 512.15 L407.45 510.62 L407.95 508.97 L408.45 507.25 L408.95 505.49 L409.45 503.76 L409.95 502.09 L410.45 500.55 L410.95 499.14 L411.45 497.79 L411.95 496.45 L412.45 495.04 L412.95 493.53 L413.45 491.95 L413.95 490.31 L414.45 488.62 L414.95 486.9 L415.45 485.15 L415.95 483.37 L416.45 481.57 L416.95 479.76 L417.45 477.95 L417.95 476.14 L418.45 474.34 L418.95 472.55 L419.45 470.77 L419.95 468.99 L420.45 467.21 L420.95 465.42 L421.45 463.62 L421.95 461.8 L422.45 459.97 L422.95 458.12 L423.45 456.24 L423.95 454.33 L424.45 452.38 L424.95 450.4 L425.45 448.36 L425.95 446.24 L426.45 444.06 L426.95 441.84 L427.45 439.6 L427.95 437.35 L428.45 435.12 L428.95 432.91 L429.45 430.76 L429.95 428.66 L430.45 426.57 L430.95 424.51 L431.45 422.46 L431.95 420.42 L432.45 418.41 L432.95 416.42 L433.45 414.46 L433.95 412.52 L434.45 410.61 L434.95 408.77 L435.45 407.01 L435.95 405.26 L436.45 403.51 L436.95 401.7 L437.45 399.8 L437.95 397.74 L438.45 395.56 L438.95 393.36 L439.45 391.24 L439.95 389.03 L440.45 386.77 L440.95 384.53 L441.45 382.37 L441.95 380.36 L442.45 378.56 L442.95 377.03 L443.45 375.66 L443.95 374.28 L444.45 373.04 L444.95 372.1 L445.45 371.63 L445.95 371.83 L446.45 372.83 L446.95 374.37 L447.45 376.18 L447.95 377.97 L448.45 379.92 L448.95 382.2 L449.45 384.71 L449.95 387.39 L450.45 390.16 L450.95 393.04 L451.45 396.21 L451.95 399.54 L452.45 402.91 L452.95 406.18 L453.45 409.34 L453.95 412.48 L454.45 415.59 L454.95 418.65 L455.45 421.64 L455.95 424.54 L456.45 427.36 L456.95 430.11 L457.45 432.79 L457.95 435.42 L458.45 438.1 L458.95 440.64 L459.45 442.81 L459.95 444.79 L460.45 446.65 L460.95 447.73 L461.45 447.68 L461.95 447.19 L462.45 446.43 L462.95 445.58 L463.45 444.76 L463.95 443.88 L464.45 442.88 L464.95 441.78 L465.45 440.57 L465.95 439.22 L466.45 437.7 L466.95 436.06 L467.45 434.32 L467.95 432.5 L468.45 430.65 L468.95 428.79 L469.45 426.95 L469.95 425.11 L470.45 423.23 L470.95 421.33 L471.45 419.39 L471.95 417.39 L472.45 415.34 L472.95 413.22 L473.45 411.03 L473.95 408.75 L474.45 406.41 L474.95 403.97 L475.45 401.43 L475.95 398.77 L476.45 395.96 L476.95 392.99 L477.45 389.51 L477.95 385.62 L478.45 381.77 L478.95 378.43 L479.45 375.84 L479.95 373.54 L480.45 371.46 L480.95 369.55 L481.45 367.76 L481.95 366.03 L482.45 364.32 L482.95 362.67 L483.45 361.11 L483.95 359.71 L484.45 358.51 L484.95 357.51 L485.45 356.59 L485.95 355.75 L486.45 355.02 L486.95 354.41 L487.45 353.96 L487.95 353.59 L488.45 353.26 L488.95 352.97 L489.45 352.74 L489.95 352.57 L490.45 352.48 L490.95 352.41 L491.45 352.35 L491.95 352.32 L492.45 352.3 L492.95 352.32 L493.45 352.38 L493.95 352.48 L494.45 352.62 L494.95 352.78" stroke="#800000" stroke-width="2.6" fill="none" stroke-linejoin="round"/>
<path d="M315.45 551.59 L315.95 551.59 L316.45 551.59 L316.95 551.59 L317.45 551.59 L317.95 551.59 L318.45 551.58 L318.95 551.58 L319.45 551.58 L319.95 551.57 L320.45 551.57 L320.95 551.57 L321.45 551.56 L321.95 551.56 L322.45 551.56 L322.95 551.55 L323.45 551.55 L323.95 551.54 L324.45 551.54 L324.95 551.53 L325.45 551.53 L325.95 551.52 L326.45 551.52 L326.95 551.51 L327.45 551.51 L327.95 551.5 L328.45 551.49 L328.95 551.49 L329.45 551.48 L329.95 551.47 L330.45 551.47 L330.95 551.46 L331.45 551.45 L331.95 551.45 L332.45 551.44 L332.95 551.43 L333.45 551.42 L333.95 551.42 L334.45 551.41 L334.95 551.4 L335.45 551.39 L335.95 551.38 L336.45 551.37 L336.95 551.35 L337.45 551.34 L337.95 551.32 L338.45 551.3 L338.95 551.28 L339.45 551.25 L339.95 551.23 L340.45 551.2 L340.95 551.18 L341.45 551.15 L341.95 551.12 L342.45 551.09 L342.95 551.06 L343.45 551.03 L343.95 551 L344.45 550.97 L344.95 550.94 L345.45 550.9 L345.95 550.87 L346.45 550.83 L346.95 550.8 L347.45 550.75 L347.95 550.71 L348.45 550.67 L348.95 550.62 L349.45 550.57 L349.95 550.52 L350.45 550.47 L350.95 550.42 L351.45 550.37 L351.95 550.31 L352.45 550.26 L352.95 550.21 L353.45 550.16 L353.95 550.11 L354.45 550.05 L354.95 550 L355.45 549.96 L355.95 549.91 L356.45 549.87 L356.95 549.82 L357.45 549.77 L357.95 549.73 L358.45 549.68 L358.95 549.62 L359.45 549.57 L359.95 549.51 L360.45 549.44 L360.95 549.37 L361.45 549.3 L361.95 549.23 L362.45 549.15 L362.95 549.07 L363.45 548.99 L363.95 548.9 L364.45 548.82 L364.95 548.72 L365.45 548.63 L365.95 548.53 L366.45 548.42 L366.95 548.32 L367.45 548.21 L367.95 548.09 L368.45 547.97 L368.95 547.85 L369.45 547.72 L369.95 547.59 L370.45 547.45 L370.95 547.31 L371.45 547.16 L371.95 547 L372.45 546.82 L372.95 546.62 L373.45 546.41 L373.95 546.19 L374.45 545.96 L374.95 545.71 L375.45 545.46 L375.95 545.2 L376.45 544.93 L376.95 544.66 L377.45 544.38 L377.95 544.1 L378.45 543.82 L378.95 543.53 L379.45 543.24 L379.95 542.95 L380.45 542.67 L380.95 542.38 L381.45 542.1 L381.95 541.83 L382.45 541.55 L382.95 541.27 L383.45 540.99 L383.95 540.71 L384.45 540.42 L384.95 540.13 L385.45 539.83 L385.95 539.54 L386.45 539.24 L386.95 538.94 L387.45 538.64 L387.95 538.33 L388.45 538.02 L388.95 537.72 L389.45 537.41 L389.95 537.1 L390.45 536.79 L390.95 536.48 L391.45 536.17 L391.95 535.85 L392.45 535.54 L392.95 535.23 L393.45 534.92 L393.95 534.6 L394.45 534.28 L394.95 533.95 L395.45 533.63 L395.95 533.3 L396.45 532.98 L396.95 532.66 L397.45 532.34 L397.95 532.03 L398.45 531.72 L398.95 531.42 L399.45 531.11 L399.95 530.8 L400.45 530.5 L400.95 530.19 L401.45 529.9 L401.95 529.61 L402.45 529.32 L402.95 529.05 L403.45 528.78 L403.95 528.52 L404.45 528.28 L404.95 528.02 L405.45 527.77 L405.95 527.53 L406.45 527.28 L406.95 527.05 L407.45 526.82 L407.95 526.61 L408.45 526.41 L408.95 526.22 L409.45 526.06 L409.95 525.91 L410.45 525.78 L410.95 525.66 L411.45 525.54 L411.95 525.42 L412.45 525.32 L412.95 525.22 L413.45 525.13 L413.95 525.05 L414.45 524.98 L414.95 524.92 L415.45 524.88 L415.95 524.84 L416.45 524.8 L416.95 524.76 L417.45 524.72 L417.95 524.69 L418.45 524.66 L418.95 524.64 L419.45 524.62 L419.95 524.61 L420.45 524.6 L420.95 524.6 L421.45 524.63 L421.95 524.66 L422.45 524.71 L422.95 524.78 L423.45 524.86 L423.95 524.94 L424.45 525.04 L424.95 525.14 L425.45 525.25 L425.95 525.37 L426.45 525.48 L426.95 525.6 L427.45 525.72 L427.95 525.84 L428.45 525.96 L428.95 526.09 L429.45 526.22 L429.95 526.37 L430.45 526.52 L430.95 526.69 L431.45 526.86 L431.95 527.04 L432.45 527.23 L432.95 527.42 L433.45 527.62 L433.95 527.83 L434.45 528.04 L434.95 528.26 L435.45 528.48 L435.95 528.71 L436.45 528.94 L436.95 529.17 L437.45 529.42 L437.95 529.68 L438.45 529.95 L438.95 530.24 L439.45 530.54 L439.95 530.84 L440.45 531.16 L440.95 531.48 L441.45 531.81 L441.95 532.15 L442.45 532.48 L442.95 532.83 L443.45 533.17 L443.95 533.51 L444.45 533.85 L444.95 534.2 L445.45 534.53 L445.95 534.88 L446.45 535.23 L446.95 535.58 L447.45 535.95 L447.95 536.32 L448.45 536.69 L448.95 537.06 L449.45 537.44 L449.95 537.82 L450.45 538.19 L450.95 538.57 L451.45 538.94 L451.95 539.3 L452.45 539.66 L452.95 540.02 L453.45 540.36 L453.95 540.7 L454.45 541.03 L454.95 541.36 L455.45 541.7 L455.95 542.03 L456.45 542.37 L456.95 542.7 L457.45 543.02 L457.95 543.35 L458.45 543.67 L458.95 543.98 L459.45 544.28 L459.95 544.58 L460.45 544.87 L460.95 545.14 L461.45 545.4 L461.95 545.65 L462.45 545.89 L462.95 546.11 L463.45 546.32 L463.95 546.53 L464.45 546.74 L464.95 546.93 L465.45 547.13 L465.95 547.31 L466.45 547.49 L466.95 547.67 L467.45 547.84 L467.95 548.01 L468.45 548.17 L468.95 548.32 L469.45 548.47 L469.95 548.61 L470.45 548.75 L470.95 548.88 L471.45 549.01 L471.95 549.14 L472.45 549.26 L472.95 549.38 L473.45 549.51 L473.95 549.62 L474.45 549.74 L474.95 549.85 L475.45 549.96 L475.95 550.07 L476.45 550.17 L476.95 550.26 L477.45 550.35 L477.95 550.43 L478.45 550.51 L478.95 550.58 L479.45 550.64 L479.95 550.7 L480.45 550.74 L480.95 550.79 L481.45 550.84 L481.95 550.88 L482.45 550.92 L482.95 550.96 L483.45 551 L483.95 551.03 L484.45 551.07 L484.95 551.1 L485.45 551.14 L485.95 551.17 L486.45 551.2 L486.95 551.22 L487.45 551.25 L487.95 551.27 L488.45 551.3 L488.95 551.32 L489.45 551.34 L489.95 551.36 L490.45 551.38 L490.95 551.4 L491.45 551.41 L491.95 551.43 L492.45 551.44 L492.95 551.46 L493.45 551.47 L493.95 551.48 L494.45 551.49 L494.95 551.5" stroke="#008000" stroke-width="2.4" fill="none" stroke-linejoin="round"/>
<path d="M315.45 552.25 L316.45 552.55 L317.45 552.62 L318.45 552.5 L319.45 553.21 L320.45 552.83 L321.45 552.3 L322.45 554.09 L323.45 552.73 L324.45 552.51 L325.45 553.43 L326.45 553.32 L327.45 552.31 L328.45 552.11 L329.45 552.24 L330.45 553.06 L331.45 552.48 L332.45 552.32 L333.45 552.7 L334.45 553.28 L335.45 552.34 L336.45 552.84 L337.45 552.53 L338.45 554.02 L339.45 553.92 L340.45 553.58 L341.45 553.12 L342.45 553.4 L343.45 552.25 L344.45 553.14 L345.45 552.44 L346.45 552.39 L347.45 552.58 L348.45 552.69 L349.45 553.03 L350.45 553.08 L351.45 552.92 L352.45 552.47 L353.45 553.15 L354.45 552.88 L355.45 553.44 L356.45 552.65 L357.45 551.95 L358.45 552.89 L359.45 553.96 L360.45 553.29 L361.45 553.01 L362.45 553.42 L363.45 553.24 L364.45 553.18 L365.45 552.75 L366.45 552.93 L367.45 552.92 L368.45 552.52 L369.45 552.26 L370.45 552.7 L371.45 552.95 L372.45 552.7 L373.45 552.48 L374.45 552.29 L375.45 552.9 L376.45 551.74 L377.45 551.81 L378.45 551.93 L379.45 550.93 L380.45 550.8 L381.45 550.91 L382.45 551 L383.45 550.31 L384.45 550.19 L385.45 549.95 L386.45 549.31 L387.45 550.12 L388.45 549.45 L389.45 548.74 L390.45 549.24 L391.45 548.46 L392.45 548.59 L393.45 548.83 L394.45 548.26 L395.45 548.84 L396.45 547.59 L397.45 548.04 L398.45 547.9 L399.45 548 L400.45 547.52 L401.45 546.97 L402.45 546.64 L403.45 546.32 L404.45 546.54 L405.45 545.56 L406.45 545.77 L407.45 545.25 L408.45 545.12 L409.45 544.65 L410.45 545.33 L411.45 543.86 L412.45 543.93 L413.45 543.82 L414.45 544.63 L415.45 545.53 L416.45 545.62 L417.45 545.58 L418.45 544.34 L419.45 545.29 L420.45 546.6 L421.45 548.74 L422.45 548.97 L423.45 549.68 L424.45 550.39 L425.45 551.15 L426.45 550.96 L427.45 550.95 L428.45 551.48 L429.45 550.64 L430.45 550.31 L431.45 551.12 L432.45 551.29 L433.45 551.98 L434.45 552.36 L435.45 550.89 L436.45 552.25 L437.45 551.64 L438.45 550.36 L439.45 548.89 L440.45 549.58 L441.45 548.67 L442.45 548.51 L443.45 548.85 L444.45 548.91 L445.45 551.22 L446.45 552.43 L447.45 554.04 L448.45 555.12 L449.45 555.13 L450.45 556.52 L451.45 555.8 L452.45 556.51 L453.45 555.34 L454.45 555.84 L455.45 554.98 L456.45 554.57 L457.45 552.85 L458.45 550.98 L459.45 550.35 L460.45 550.01 L461.45 549.94 L462.45 548.93 L463.45 548.55 L464.45 548.97 L465.45 549.25 L466.45 549.69 L467.45 550.65 L468.45 552.27 L469.45 553.25 L470.45 554.08 L471.45 554.12 L472.45 554.99 L473.45 555.24 L474.45 555.12 L475.45 556.56 L476.45 557.38 L477.45 558.6 L478.45 559.58 L479.45 558.63 L480.45 557.81 L481.45 557.48 L482.45 557.1 L483.45 556.16 L484.45 556.28 L485.45 555.95 L486.45 553.08 L487.45 551.69 L488.45 550.62 L489.45 550.89 L490.45 551.58 L491.45 552.21 L492.45 551.93 L493.45 552.37 L494.45 552.22" stroke="#00009a" stroke-width="2.6" fill="none" stroke-linejoin="round"/>
<path d="M368.8 490 L409.5 530.2" stroke="#800080" stroke-width="2.4" fill="none"/>
<path d="M415.9 536.5 L409.1 524.5 L403 530.4Z" fill="#800080"/>
<path d="M315.45 565.85v-5.3M315.45 332.9v5.3M377.94 565.85v-5.3M377.94 332.9v5.3M440.43 565.85v-5.3M440.43 332.9v5.3M502.92 565.85v-5.3M502.92 332.9v5.3M346.69 565.85v-3.2M346.69 332.9v3.2M409.19 565.85v-3.2M409.19 332.9v3.2M471.67 565.85v-3.2M471.67 332.9v3.2M315.45 357.3h5.3M315.45 405.9h5.3M315.45 454.5h5.3M315.45 503.1h5.3M315.45 551.7h5.3M315.45 381.6h3.2M315.45 430.2h3.2M315.45 478.8h3.2M315.45 527.4h3.2" stroke="#000" stroke-width="1.5" fill="none"/>
<rect x="315.45" y="332.9" width="249.95" height="232.95" fill="none" stroke="#000" stroke-width="1.8"/>
<circle cx="64.25" cy="348.1" r="5" fill="#7dffff" stroke="#111" stroke-width="0.95"/><path d="M48.75 367.4h31" stroke="#f00" stroke-width="2.6"/><path d="M48.75 386.9h31" stroke="#00009a" stroke-width="2.6"/><text x="83.25" y="352.8" class="lg"><tspan font-size="15.8">I</tspan><tspan font-size="12.6">obs</tspan></text><text x="83.25" y="372.3" class="lg"><tspan font-size="15.8">I</tspan><tspan font-size="12.6">calc</tspan></text><text x="83.25" y="392.2" class="lg"><tspan font-size="15.8">I</tspan><tspan font-size="12.6">obs-</tspan><tspan font-size="15.8">I</tspan><tspan font-size="12.6">calc</tspan></text>
<circle cx="336.45" cy="348.9" r="5" fill="#7dffff" stroke="#111" stroke-width="0.95"/><path d="M320.95 368.2h31" stroke="#f00" stroke-width="2.6"/><path d="M320.95 387.7h31" stroke="#00009a" stroke-width="2.6"/><text x="355.45" y="353.6" class="lg"><tspan font-size="15.8">I</tspan><tspan font-size="12.6">obs</tspan></text><text x="355.45" y="373.1" class="lg"><tspan font-size="15.8">I</tspan><tspan font-size="12.6">calc</tspan></text><text x="355.45" y="393" class="lg"><tspan font-size="15.8">I</tspan><tspan font-size="12.6">obs-</tspan><tspan font-size="15.8">I</tspan><tspan font-size="12.6">calc</tspan></text>
<text x="42.25" y="586.1" class="tk">72</text>
<text x="104.74" y="586.1" class="tk">68</text>
<text x="167.23" y="586.1" class="tk">64</text>
<text x="229.72" y="586.1" class="tk">60</text>
<text x="292.21" y="586.1" class="tk">56</text>
<text x="315.55" y="586.1" class="tk">72</text>
<text x="378.04" y="586.1" class="tk">68</text>
<text x="440.53" y="586.1" class="tk">64</text>
<text transform="translate(262.85 356.9) scale(0.94 1)" class="pl">[a]</text>
<text x="170.8" y="494.3" class="ir" style="fill:#0000ff">Ir<tspan font-size="17" dy="-6.9">4+</tspan></text>
<text x="445.7" y="502" class="ir" style="fill:#0000ff">Ir<tspan font-size="17" dy="-6.9">4+</tspan></text>
<text x="352.4" y="486.3" class="ir" style="fill:#800080">Ir<tspan font-size="17" dy="-6.9">5+</tspan></text>
<text x="298.6" y="620.5" class="ax">B.E.(eV)</text>
<text transform="translate(21.1 460.9) rotate(-90)" class="ax" style="font-size:23.1px">Intensity</text>
</g>
</svg>
</body></html>
